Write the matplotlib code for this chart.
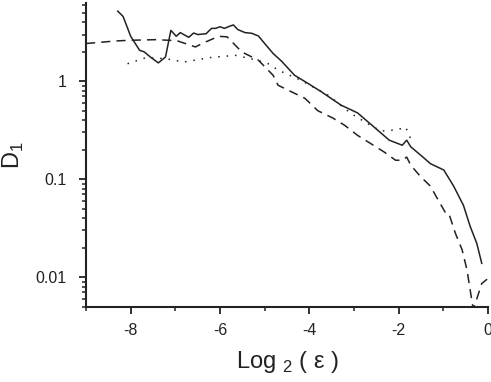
import matplotlib
matplotlib.use("Agg")
import matplotlib.pyplot as plt
from matplotlib.ticker import LogLocator, FixedLocator, NullFormatter, FixedFormatter

plt.rcParams['font.family'] = ['Liberation Sans', 'DejaVu Sans']
plt.rcParams['mathtext.fontset'] = 'custom'
plt.rcParams['mathtext.rm'] = 'Liberation Sans'

# Solid series
solid_x = [-8.29, -8.17, -8.0, -7.8, -7.7, -7.56, -7.38, -7.22, -7.1, -6.98, -6.89, -6.70,
           -6.59, -6.5, -6.31, -6.19, -6.1, -6.0, -5.9, -5.79, -5.7, -5.6, -5.44, -5.29,
           -5.14, -5.0, -4.81, -4.62, -4.33, -4.03, -3.73, -3.29, -2.92, -2.55, -2.21,
           -1.92, -1.82, -1.73, -1.47, -1.29, -0.99, -0.77, -0.55, -0.4, -0.25, -0.14]
solid_y = [5.2, 4.6, 2.88, 2.07, 2.0, 1.77, 1.54, 1.77, 3.31, 2.88, 3.14, 2.81,
           3.11, 3.0, 3.06, 3.47, 3.47, 3.6, 3.47, 3.64, 3.76, 3.37, 3.14, 3.09,
           2.9, 2.43, 1.92, 1.6, 1.15, 0.95, 0.78, 0.57, 0.475, 0.34, 0.25,
           0.222, 0.25, 0.214, 0.17, 0.144, 0.124, 0.085, 0.054, 0.033, 0.022, 0.0138]

# Dashed series
dashed_x = [-9.0, -8.33, -8.03, -7.44, -7.14, -6.99, -6.55, -6.4, -6.03, -5.84, -5.51,
            -5.14, -4.81, -4.7, -4.4, -4.1, -3.81, -3.47, -3.21, -2.92, -2.62, -2.33,
            -2.07, -1.92, -1.82, -1.73, -1.51, -1.29, -1.18, -0.96, -0.88, -0.73, -0.58,
            -0.47, -0.4, -0.33, -0.25, -0.14, -0.02]
dashed_y = [2.43, 2.58, 2.62, 2.66, 2.62, 2.62, 2.24, 2.43, 2.88, 2.84, 1.99,
            1.64, 1.15, 0.91, 0.78, 0.67, 0.5, 0.42, 0.355, 0.28, 0.23, 0.19,
            0.156, 0.156, 0.168, 0.139, 0.106, 0.085, 0.069, 0.046, 0.045, 0.028, 0.019,
            0.0118, 0.0074, 0.0047, 0.006, 0.0086, 0.0095]

# Dotted series
dotted_x = [-8.07, -7.66, -7.21, -6.81, -6.25, -5.66, -5.21, -4.9, -4.7, -4.18, -3.58,
            -3.07, -2.7, -2.4, -2.03, -1.84, -1.77, -1.66]
dotted_y = [1.51, 1.74, 1.70, 1.57, 1.74, 1.84, 1.66, 1.5, 1.3, 1.02, 0.72,
            0.47, 0.37, 0.31, 0.32, 0.34, 0.28, 0.23]

xticks = [-8, -6, -4, -2, 0]
xtick_labels = ['-8', '-6', '-4', '-2', '0']
yticks = [0.01, 0.1, 1]
ytick_labels = ['0.01', '0.1', '1']

fig = plt.figure(figsize=(4.91, 3.82), dpi=100)
ax = fig.add_axes([86/491, (382-306.5)/382, (488-86)/491, (306.5-3)/382])

ax.plot(solid_x, solid_y, color='#222222', lw=1.1, ls='-')
ax.plot(dashed_x, dashed_y, color='#222222', lw=1.1, ls=(0, (6, 4)))
ax.plot(dotted_x, dotted_y, color='#222222', lw=1.1, ls=(0, (1.0, 4.5)))

ax.set_yscale('log')
ax.set_xlim(-9, 0)
ax.set_ylim(0.005, 6.3)

ax.xaxis.set_major_locator(FixedLocator(xticks))
ax.xaxis.set_major_formatter(FixedFormatter(xtick_labels))
ax.xaxis.set_minor_locator(FixedLocator([-9, -7, -5, -3, -1]))
ax.yaxis.set_major_locator(FixedLocator(yticks))
ax.yaxis.set_major_formatter(FixedFormatter(ytick_labels))
ax.yaxis.set_minor_locator(LogLocator(base=10, subs=range(2, 10)))
ax.yaxis.set_minor_formatter(NullFormatter())

for s in ['top', 'right']:
    ax.spines[s].set_visible(False)
for s in ['left', 'bottom']:
    ax.spines[s].set_linewidth(1.5)
    ax.spines[s].set_color('#222222')

ax.tick_params(axis='both', which='major', direction='out', length=5, width=1.3,
               labelsize=11.5, colors='#222222')
ax.tick_params(axis='both', which='minor', direction='out', length=3, width=1.1,
               colors='#222222')
ax.tick_params(axis='y', which='major', pad=9)
ax.tick_params(axis='x', which='major', pad=7)

ax.set_xlabel(r'Log $_{\mathregular{2}}$ ( ε )', fontsize=17, color='#222222', labelpad=8)
ax.set_ylabel(r'D$_{\mathregular{1}}$', fontsize=17, color='#222222', labelpad=7)

fig.savefig('out.png', dpi=100)
